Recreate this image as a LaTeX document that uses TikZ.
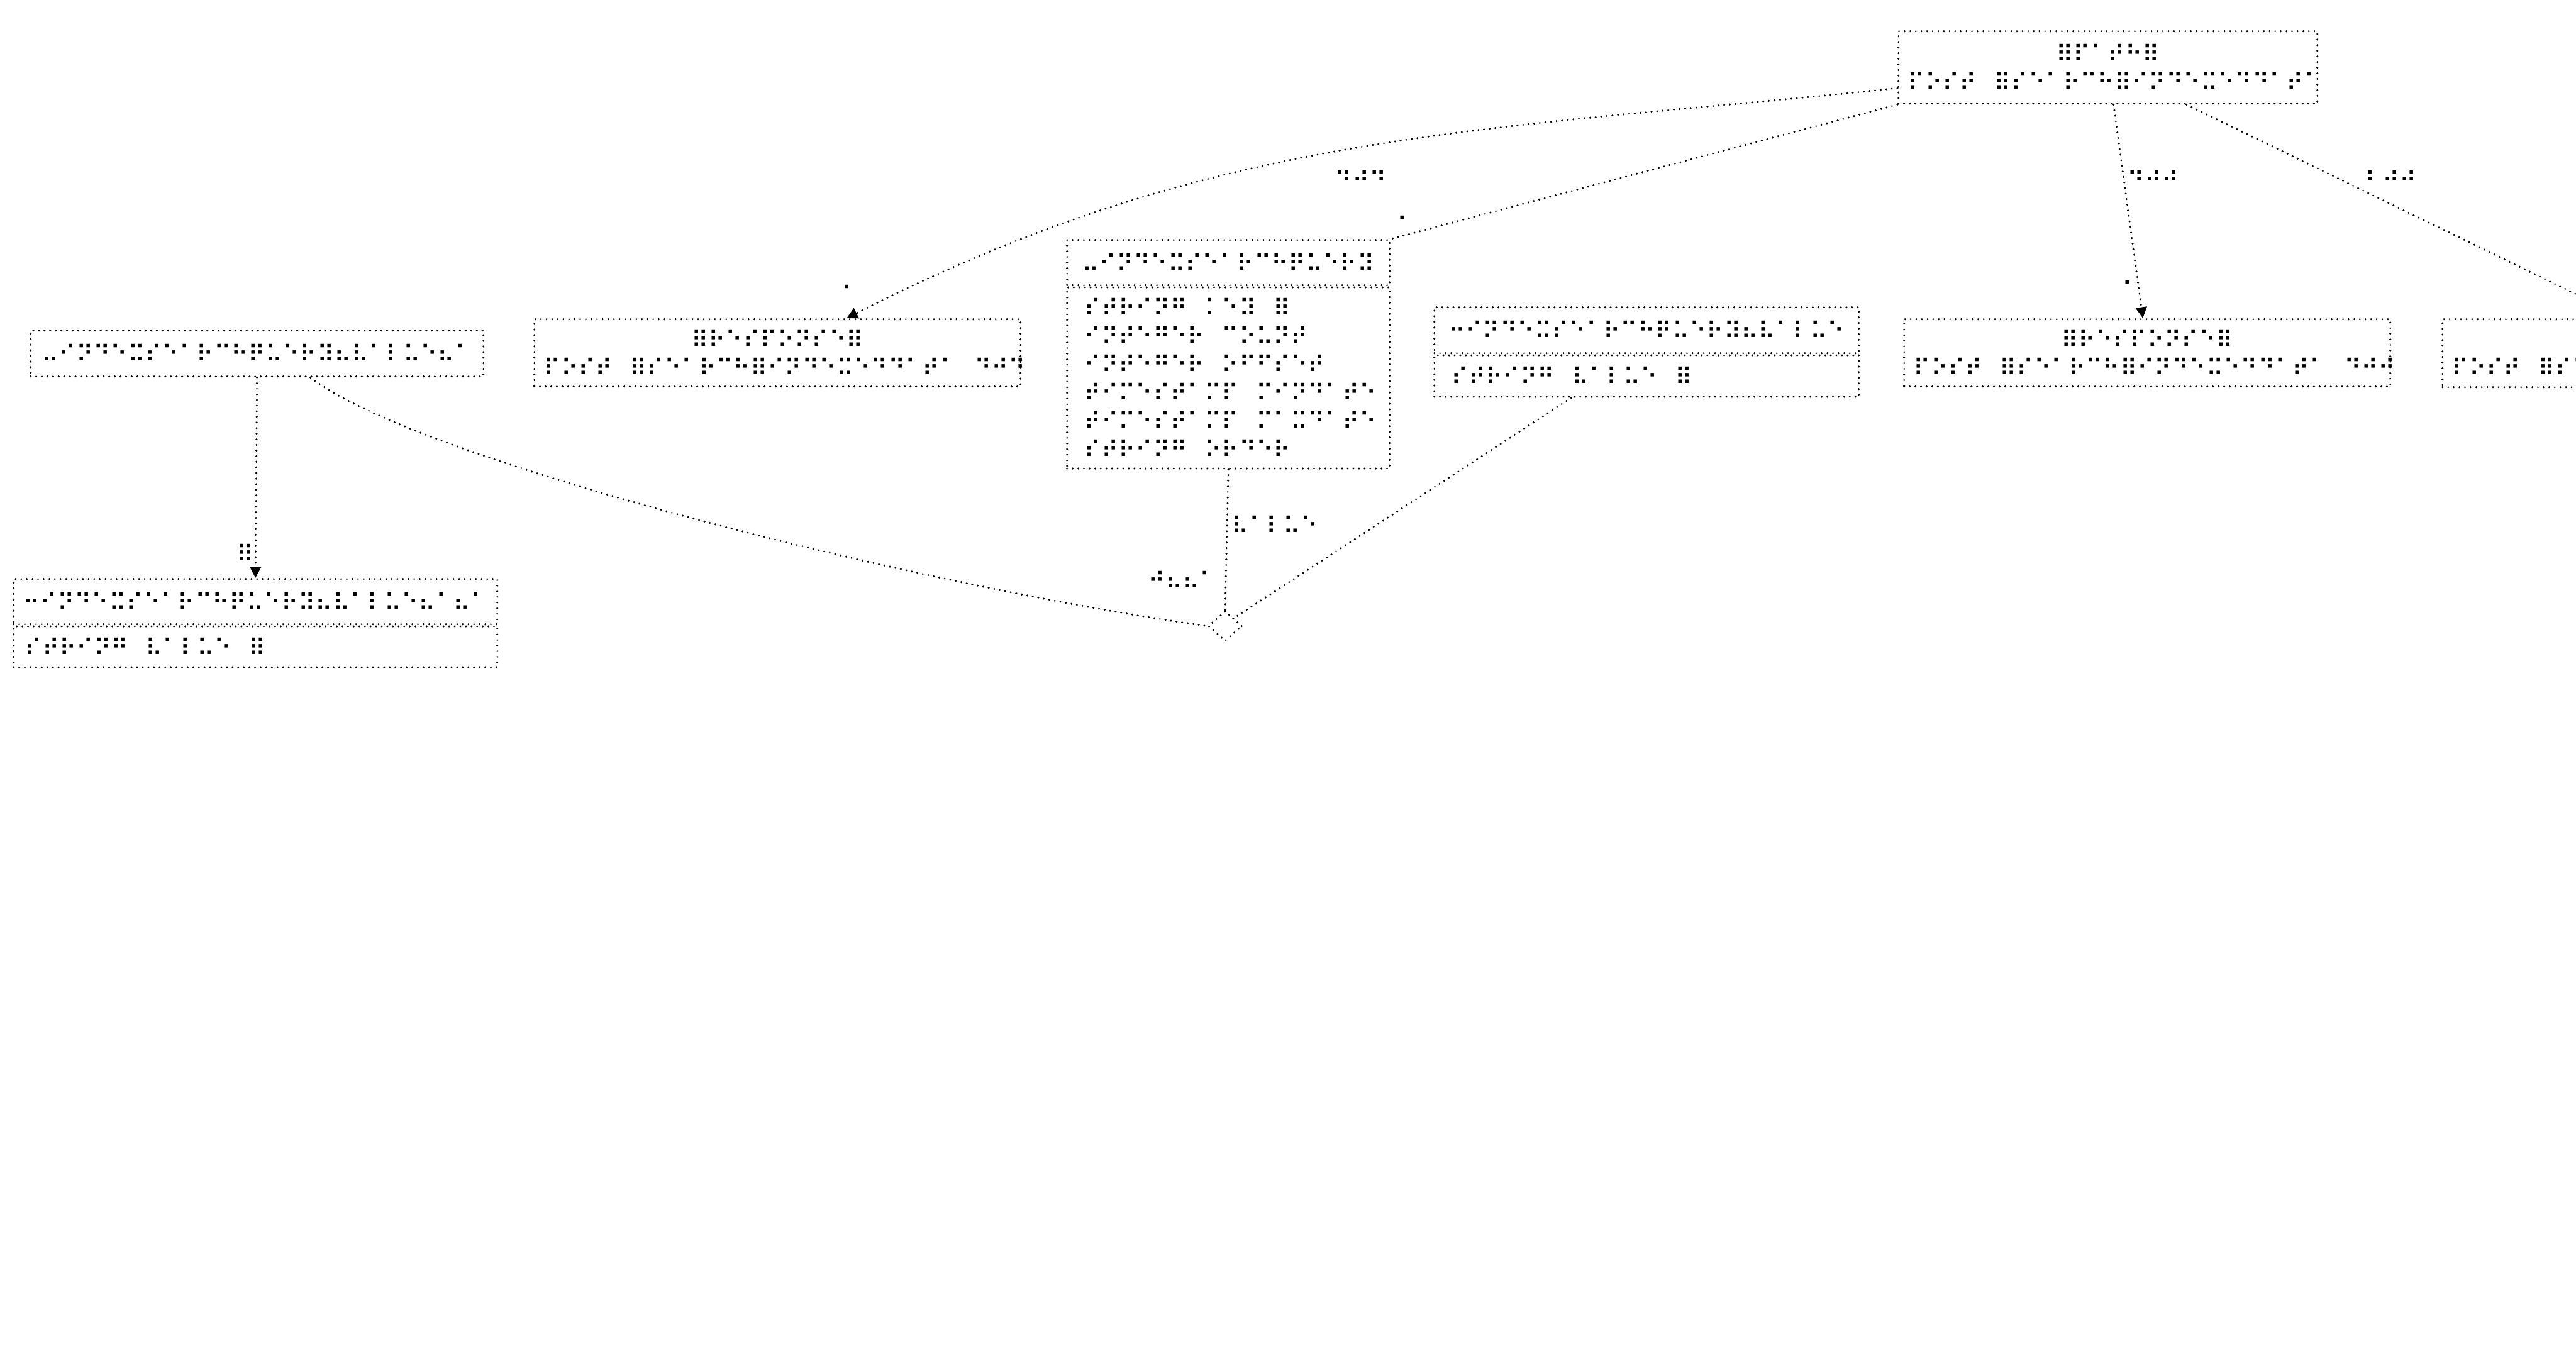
\documentclass[tikz,border=0pt]{standalone}
\usepackage{fontspec}
\usetikzlibrary{arrows.meta,positioning,shapes.geometric}
\newfontfamily\brlfamily{DejaVu Sans}
\newcommand{\brl}{\brlfamily\fontsize{10.64pt}{12.8pt}\selectfont}
\tikzset{
  dotrule/.style={line width=0.95pt, line cap=round, dash pattern=on 0pt off 2.54pt},
  classbox/.style={draw, dotrule, font=\brl, inner xsep=0.15cm, inner ysep=0pt, align=center},
  bodybox/.style={classbox, align=left, inner xsep=0.27cm},
  assoc/.style={draw, dotrule},
  navarr/.style={assoc, -{Triangle[length=5pt,width=5pt]}},
  rolelabel/.style={font=\brl, inner sep=0pt, anchor=west, execute at begin node=\strut},
  hubmark/.style={diamond, draw, dotrule, inner sep=0pt, minimum width=0.54cm, minimum height=0.48cm}
}

\begin{document}
\begin{tikzpicture}
\useasboundingbox (0,0) rectangle (40.96,-21.76);

% path node
\node[classbox, anchor=north west, text width=6.36cm, minimum height=1.15cm] (path) at (30.17,-0.48)
  {⠿⠏⠁⠞⠓⠿\\⠏⠕⠎⠞⠀⠿⠎⠑⠁⠗⠉⠓⠿⠊⠝⠙⠑⠭⠑⠙⠙⠁⠞⠁};

% responses
\node[classbox, anchor=north west, text width=7.43cm, minimum height=1.07cm] (resp404) at (8.48,-5.06)
  {⠿⠗⠑⠎⠏⠕⠝⠎⠑⠿\\⠏⠕⠎⠞⠀⠿⠎⠑⠁⠗⠉⠓⠿⠊⠝⠙⠑⠭⠑⠙⠙⠁⠞⠁⠀⠙⠚⠙};
\node[classbox, anchor=north west, text width=7.43cm, minimum height=1.07cm] (resp400) at (30.26,-5.06)
  {⠿⠗⠑⠎⠏⠕⠝⠎⠑⠿\\⠏⠕⠎⠞⠀⠿⠎⠑⠁⠗⠉⠓⠿⠊⠝⠙⠑⠭⠑⠙⠙⠁⠞⠁⠀⠙⠚⠚};
\node[classbox, anchor=north west, text width=7.43cm, minimum height=1.08cm] (resp200) at (38.82,-5.06)
  {⠿⠗⠑⠎⠏⠕⠝⠎⠑⠿\\⠏⠕⠎⠞⠀⠿⠎⠑⠁⠗⠉⠓⠿⠊⠝⠙⠑⠭⠑⠙⠙⠁⠞⠁⠀⠃⠚⠚};

% query
\node[classbox, anchor=north west, inner xsep=0.1cm, text width=4.93cm, minimum height=0.72cm] (query) at (16.95,-3.80)
  {⠤⠊⠝⠙⠑⠭⠎⠑⠁⠗⠉⠓⠟⠥⠑⠗⠽};
\node[bodybox, text width=4.59cm, minimum height=2.88cm, below=0pt of query] (querybody)
  {⠎⠞⠗⠊⠝⠛⠀⠅⠑⠽⠀⠿\\⠊⠝⠞⠑⠛⠑⠗⠀⠉⠕⠥⠝⠞\\⠊⠝⠞⠑⠛⠑⠗⠀⠕⠋⠋⠎⠑⠞\\⠞⠊⠍⠑⠎⠞⠁⠍⠏⠀⠍⠊⠝⠙⠁⠞⠑\\⠞⠊⠍⠑⠎⠞⠁⠍⠏⠀⠍⠁⠭⠙⠁⠞⠑\\⠎⠞⠗⠊⠝⠛⠀⠕⠗⠙⠑⠗};

% value nodes
\node[classbox, anchor=north west, text width=6.90cm, minimum height=0.73cm] (valA) at (0.47,-5.24)
  {⠤⠊⠝⠙⠑⠭⠎⠑⠁⠗⠉⠓⠟⠥⠑⠗⠽⠦⠧⠁⠇⠥⠑⠦⠁};
\node[classbox, anchor=north west, text width=6.45cm, minimum height=0.73cm] (valB) at (22.79,-4.87)
  {⠒⠊⠝⠙⠑⠭⠎⠑⠁⠗⠉⠓⠟⠥⠑⠗⠽⠦⠧⠁⠇⠥⠑};
\node[bodybox, text width=6.21cm, minimum height=0.66cm, below=0pt of valB] (valBbody)
  {⠎⠞⠗⠊⠝⠛⠀⠧⠁⠇⠥⠑⠀⠿};
\node[classbox, anchor=north west, inner xsep=0.08cm, text width=7.53cm, minimum height=0.72cm] (valC) at (0.20,-9.19)
  {⠒⠊⠝⠙⠑⠭⠎⠑⠁⠗⠉⠓⠟⠥⠑⠗⠽⠦⠧⠁⠇⠥⠑⠦⠁⠦⠁};
\node[bodybox, inner xsep=0.18cm, text width=7.33cm, minimum height=0.65cm, below=0pt of valC] (valCbody)
  {⠎⠞⠗⠊⠝⠛⠀⠧⠁⠇⠥⠑⠀⠿};

\node[hubmark] (hub) at (19.48,-9.955) {};

% links from the path
\draw[navarr] ([yshift=-0.33cm]path.west) to[out=186, in=27] ([xshift=1.1cm]resp404.north);
\draw[assoc] (path.south west) -- (query.north east);
\draw[navarr] ([xshift=0.09cm]path.south) -- ([xshift=-0.07cm]resp400.north);
\draw[navarr] ([xshift=1.25cm]path.south) -- ([xshift=-0.96cm]resp200.north);
\node[rolelabel] (lbl404) at (21.22,-2.91) {⠙⠚⠙};
\node[rolelabel] (lbl400) at (33.82,-2.91) {⠙⠚⠚};
\node[rolelabel] (lbl200) at (37.60,-2.91) {⠃⠚⠚};
\node[rolelabel] (one404) at (13.38,-4.73) {⠁};
\node[rolelabel] (oneq) at (22.21,-3.63) {⠁};
\node[rolelabel] (one400) at (33.74,-4.66) {⠁};

% value links
\draw[navarr] (valA.south) -- (valC.north);
\node[rolelabel] (lblmany) at (3.76,-8.85) {⠿};
\draw[assoc] ([xshift=0.85cm]valA.south) .. controls (6.6,-7.3) and (14.5,-9.3) .. (hub.west);
\draw[assoc] (querybody.south) -- (hub.north);
\draw[assoc] ([xshift=-1.2cm]valBbody.south) -- (hub.north east);
\node[rolelabel] (lblval) at (19.58,-8.40) {⠧⠁⠇⠥⠑};
\node[rolelabel] (lblmult) at (18.25,-9.28) {⠚⠦⠦⠁};
\end{tikzpicture}
\end{document}
